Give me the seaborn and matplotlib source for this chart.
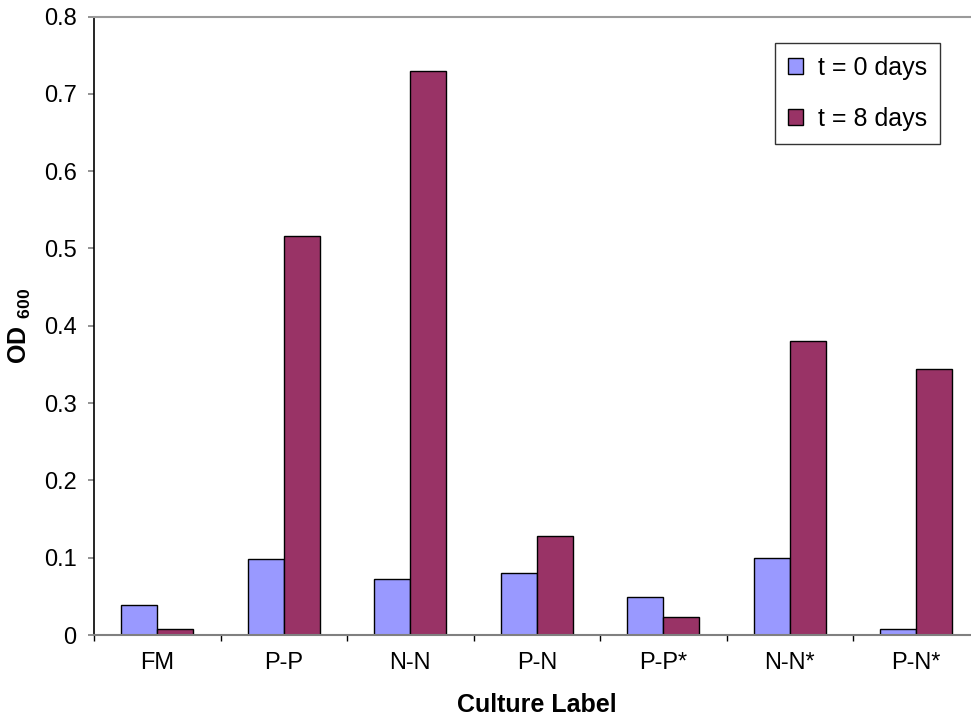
import matplotlib
matplotlib.use("Agg")
import matplotlib.pyplot as plt
import seaborn as sns
import pandas as pd
import numpy as np
from matplotlib.patches import Patch
from matplotlib.ticker import FixedLocator, FuncFormatter

# Culture labels and optical density readings
cultures = ["FM", "P-P", "N-N", "P-N", "P-P*", "N-N*", "P-N*"]
od_day0 = [0.039, 0.098, 0.072, 0.080, 0.049, 0.100, 0.008]
od_day8 = [0.008, 0.516, 0.730, 0.128, 0.023, 0.380, 0.344]
series_names = ["t = 0 days", "t = 8 days"]
series_colors = ["#9999FF", "#993366"]
y_ticks = [0.0, 0.1, 0.2, 0.3, 0.4, 0.5, 0.6, 0.7, 0.8]

df = pd.DataFrame({
    "Culture": cultures * 2,
    "OD": od_day0 + od_day8,
    "Time": [series_names[0]] * len(cultures) + [series_names[1]] * len(cultures),
})

sns.set_theme(style="white")
plt.rcParams["font.family"] = ["Liberation Sans", "DejaVu Sans"]
plt.rcParams["mathtext.fontset"] = "custom"
plt.rcParams["mathtext.rm"] = "Liberation Sans"
plt.rcParams["mathtext.bf"] = "Liberation Sans:bold"
plt.rcParams["text.color"] = "black"
plt.rcParams["axes.labelcolor"] = "black"
plt.rcParams["xtick.color"] = "black"
plt.rcParams["ytick.color"] = "black"

fig = plt.figure(figsize=(9.71, 7.21), dpi=100)
W, H = 971, 721
left, right, top, bottom = 94, 979.5, 16.5, 635
ax = fig.add_axes([left / W, 1 - bottom / H, (right - left) / W, (bottom - top) / H])

sns.barplot(
    data=df, x="Culture", y="OD", hue="Time", order=cultures,
    hue_order=series_names, palette=series_colors, saturation=1,
    width=0.57, gap=0, edgecolor="black", linewidth=1.0, ax=ax, legend=False,
)

ax.set_xlim(-0.5, len(cultures) - 0.5)
ax.set_ylim(0, 0.8)
ax.yaxis.set_major_locator(FixedLocator(y_ticks))
ax.yaxis.set_major_formatter(FuncFormatter(lambda v, _: f"{v:.1f}".rstrip("0").rstrip(".") if v else "0"))

# Ticks between categories, labels centred under each group
ax.xaxis.set_major_locator(FixedLocator(np.arange(-0.5, len(cultures), 1.0)))
ax.xaxis.set_minor_locator(FixedLocator(np.arange(len(cultures))))
ax.set_xticklabels([], minor=False)
ax.set_xticklabels(cultures, minor=True)
ax.tick_params(axis="x", which="major", direction="out", length=4.5, width=1,
               color="black", bottom=True)
ax.tick_params(axis="x", which="minor", length=0, pad=12, labelsize=17,
               labelcolor="black")
ax.tick_params(axis="y", direction="out", length=4.5, width=1.2, color="#808080",
               left=True, pad=8, labelsize=17, labelcolor="black")

for side in ["top", "right"]:
    ax.spines[side].set_color("#9a9a9a")
    ax.spines[side].set_linewidth(1.5)
ax.spines["bottom"].set_color("#808080")
ax.spines["bottom"].set_linewidth(1.5)
ax.spines["left"].set_color("black")
ax.spines["left"].set_linewidth(1.2)

ax.set_xlabel("Culture Label", fontsize=18, fontweight="bold", labelpad=14)
ax.set_ylabel(r"$\mathbf{OD\ }_{\mathbf{600}}$", fontsize=18, labelpad=8)

handles = [Patch(facecolor=c, edgecolor="black", linewidth=1.0) for c in series_colors]
leg = ax.legend(handles, series_names, loc="upper right",
                bbox_to_anchor=((940 - left) / (right - left), 1 - (43 - top) / (bottom - top)),
                fontsize=18, frameon=True, fancybox=False, edgecolor="black",
                handlelength=0.62, handleheight=0.62, handletextpad=0.6,
                labelspacing=1.1, borderpad=0.5, borderaxespad=0)
leg.get_frame().set_linewidth(1.0)

fig.savefig("out.png", dpi=100)
